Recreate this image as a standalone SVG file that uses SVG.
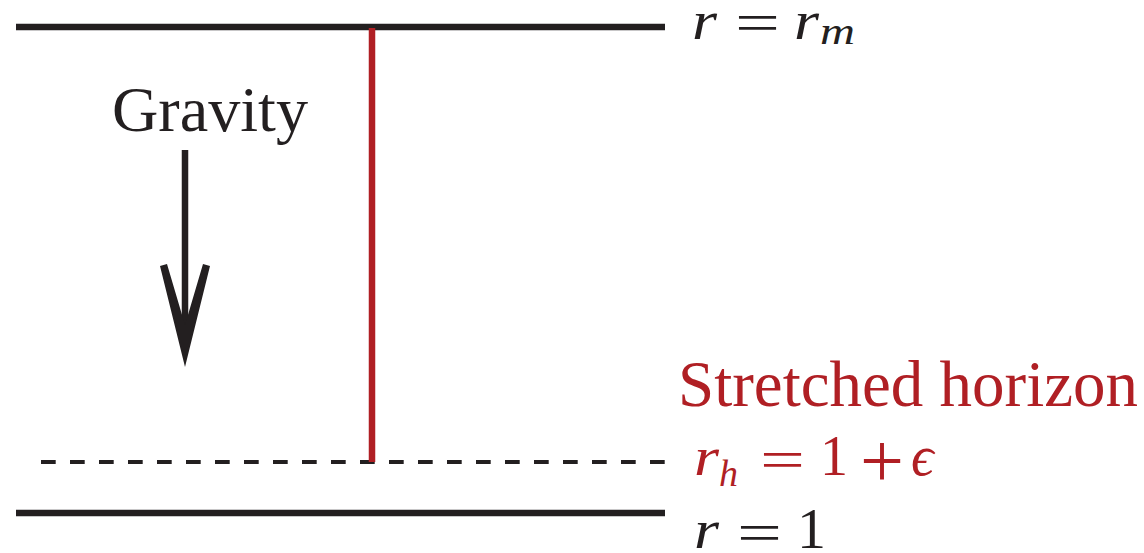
<svg xmlns="http://www.w3.org/2000/svg" width="1144" height="553" viewBox="0 0 1144 553">
<style>
.blk{stroke:#231F20;fill:none}
.txt{font-family:"Liberation Serif","Times New Roman",serif;fill:#231F20}
.red{fill:#B01F24}
.it{font-style:italic}
</style>
<rect width="1144" height="553" fill="#fff"/>
<g id="connectors">
<line id="top-line" class="blk" x1="16" y1="27" x2="665" y2="27" stroke-width="6.5"/>
<line id="bottom-line" class="blk" x1="16" y1="513" x2="665" y2="513" stroke-width="6.5"/>
<line id="dashed-line" class="blk" x1="41" y1="462" x2="665" y2="462" stroke-width="4" stroke-dasharray="14.7 14.3"/>
<line id="red-line" x1="372" y1="28" x2="372" y2="462" stroke="#B01F24" stroke-width="6.5"/>
<g id="gravity-arrow">
<line class="blk" x1="185" y1="150" x2="185" y2="335" stroke-width="6.5"/>
<polygon points="160,266 167,264 185,325 203,264 210,266 185,367" fill="#231F20"/>
</g>
</g>
<g id="gravity-label"><text class="txt" x="112" y="131" font-size="64" textLength="196" lengthAdjust="spacingAndGlyphs">Gravity</text></g>
<g id="horizon-label"><text class="txt red" x="678" y="406" font-size="65" textLength="460" lengthAdjust="spacingAndGlyphs">Stretched horizon</text></g>
<g id="label-rm" class="txt" font-size="54">
<text class="it" x="692" y="39" textLength="25" lengthAdjust="spacingAndGlyphs">r</text>
<text x="735" y="41" textLength="45" lengthAdjust="spacingAndGlyphs">=</text>
<text class="it" x="794" y="39" textLength="25" lengthAdjust="spacingAndGlyphs">r</text>
<text class="it" x="820" y="44" font-size="38" textLength="35" lengthAdjust="spacingAndGlyphs">m</text>
</g>
<g id="label-rh" class="txt red" font-size="54">
<text class="it" x="694" y="475" textLength="25" lengthAdjust="spacingAndGlyphs">r</text>
<text class="it" x="719" y="486" font-size="38">h</text>
<text x="760" y="478" textLength="45" lengthAdjust="spacingAndGlyphs">=</text>
<text x="820" y="475" font-size="56">1</text>
<text x="860" y="487" font-size="78">+</text>
<text class="it" x="911" y="475" font-size="56">ϵ</text>
</g>
<g id="label-r1" class="txt" font-size="54">
<text class="it" x="694" y="548" textLength="25" lengthAdjust="spacingAndGlyphs">r</text>
<text x="737" y="551" textLength="45" lengthAdjust="spacingAndGlyphs">=</text>
<text x="797" y="548" font-size="58">1</text>
</g>
</svg>
